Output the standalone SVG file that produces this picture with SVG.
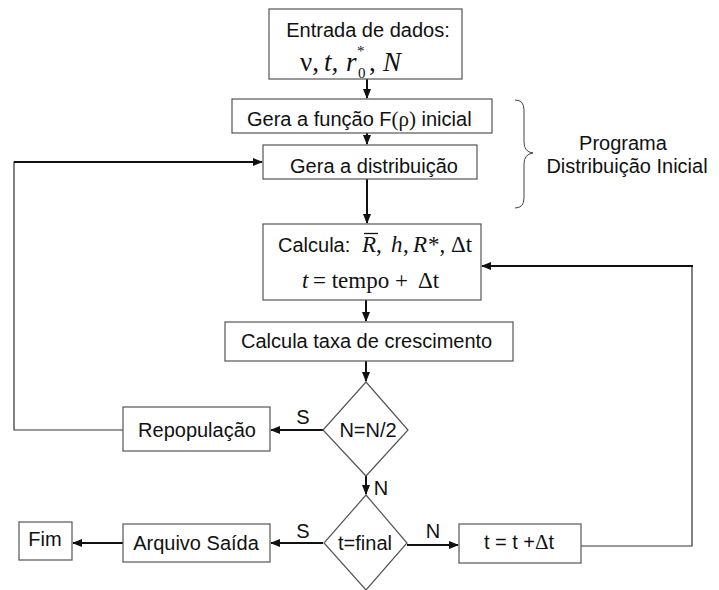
<svg xmlns="http://www.w3.org/2000/svg" width="719" height="590" viewBox="0 0 719 590">
<style>
.box{fill:#fff;stroke:#555;stroke-width:1.2}
.t{font-family:"Liberation Sans",Arial,sans-serif;font-size:20px;fill:#111}
.m{font-family:"Liberation Serif","Times New Roman",serif;fill:#111}
.i{font-style:italic}
.c{stroke:#111;stroke-width:2;fill:none}
.thin{stroke:#333;stroke-width:1.2;fill:none}
</style>
<defs>
<marker id="ah" viewBox="0 0 10 10" refX="9" refY="5" markerWidth="5" markerHeight="5" orient="auto"><path d="M0,1 L10,5 L0,9 z" fill="#111"/></marker>
</defs>
<g id="connectors">
<line class="c" x1="367" y1="79" x2="367" y2="98" marker-end="url(#ah)"/>
<line class="c" x1="367" y1="133" x2="367" y2="144" marker-end="url(#ah)"/>
<line class="c" x1="367" y1="179" x2="367" y2="223" marker-end="url(#ah)"/>
<line class="c" x1="366" y1="300" x2="366" y2="321" marker-end="url(#ah)"/>
<line class="c" x1="366" y1="361" x2="366" y2="381" marker-end="url(#ah)"/>
<line class="c" x1="323" y1="430" x2="271" y2="430" marker-end="url(#ah)"/>
<polyline class="thin" points="123,430 14,430 14,162 150,162"/>
<line class="c" x1="14" y1="162" x2="262" y2="162" marker-end="url(#ah)"/>
<line class="c" x1="366" y1="475" x2="366" y2="494" marker-end="url(#ah)"/>
<line class="c" x1="323" y1="543" x2="271" y2="543" marker-end="url(#ah)"/>
<line class="c" x1="123" y1="543" x2="73" y2="543" marker-end="url(#ah)"/>
<line class="c" x1="407" y1="545" x2="458" y2="545" marker-end="url(#ah)"/>
<polyline class="thin" points="581,546 692,546 692,266"/>
<line class="c" x1="693" y1="266" x2="482" y2="266" marker-end="url(#ah)"/>
<text class="t" x="303" y="424" text-anchor="middle">S</text>
<text class="t" x="303" y="538" text-anchor="middle">S</text>
<text class="t" x="381" y="495" text-anchor="middle">N</text>
<text class="t" x="433" y="538" text-anchor="middle">N</text>
</g>
<g id="entrada">
<rect class="box" x="269" y="9" width="193" height="70"/>
<text class="t" x="368" y="37" text-anchor="middle">Entrada de dados:</text>
<g class="m" font-size="27">
<text x="300" y="71">ν,</text>
<text x="324" y="71" class="i">t,</text>
<text x="346" y="71" class="i">r</text>
<text x="358" y="78" font-size="15">0</text>
<text x="357" y="56" font-size="15">*</text>
<text x="369" y="71">,</text>
<text x="383" y="71" class="i">N</text>
</g>
</g>
<g id="gera-funcao">
<rect class="box" x="232" y="99" width="260" height="34"/>
<text class="t" x="247" y="126">Gera a função F<tspan class="m" font-size="21">(ρ)</tspan> inicial</text>
</g>
<g id="gera-distribuicao">
<rect class="box" x="263" y="145" width="214" height="34"/>
<text class="t" x="374" y="173" text-anchor="middle">Gera a distribuição</text>
</g>
<g id="programa">
<path d="M515,100 Q524,100 524,110 L524,142 Q524,152 533,153 Q524,154 524,164 L524,198 Q524,208 515,208" fill="none" stroke="#444" stroke-width="1"/>
<text class="t" x="623" y="150" text-anchor="middle">Programa</text>
<text class="t" x="627" y="173" text-anchor="middle">Distribuição Inicial</text>
</g>
<g id="calcula">
<rect class="box" x="263" y="224" width="218" height="76"/>
<text class="t" x="278" y="252" font-size="19">Calcula:</text>
<g class="m" font-size="23">
<text x="362" y="252" class="i">R</text>
<text x="376" y="252">,</text>
<text x="391" y="252" class="i">h</text>
<text x="403" y="252">,</text>
<text x="413" y="252" class="i">R</text>
<text x="428" y="252">*,</text>
<text x="451" y="252">Δt</text>
<text x="302" y="288" class="i">t</text>
<text x="313" y="288">= tempo +</text>
<text x="418" y="288">Δt</text>
</g>
<line x1="364" y1="233.5" x2="378" y2="233.5" stroke="#111" stroke-width="1.3"/>
</g>
<g id="taxa">
<rect class="box" x="225" y="322" width="288" height="39"/>
<text class="t" x="241" y="348">Calcula taxa de crescimento</text>
</g>
<g id="decisao-n">
<polygon class="box" points="366,382 408,430 366,476 323,430"/>
<text class="t" x="368" y="437" text-anchor="middle">N=N/2</text>
</g>
<g id="repopulacao">
<rect class="box" x="123" y="407" width="147" height="44"/>
<text class="t" x="197" y="437" text-anchor="middle">Repopulação</text>
</g>
<g id="decisao-t">
<polygon class="box" points="366,495 407,543 366,590 324,543"/>
<text class="t" x="365" y="550" text-anchor="middle">t=final</text>
</g>
<g id="arquivo">
<rect class="box" x="123" y="524" width="147" height="38"/>
<text class="t" x="196" y="550" text-anchor="middle">Arquivo Saída</text>
</g>
<g id="fim">
<rect class="box" x="19" y="522" width="53" height="38"/>
<text class="t" x="45" y="546" text-anchor="middle">Fim</text>
</g>
<g id="incremento">
<rect class="box" x="459" y="524" width="122" height="39"/>
<text class="t" x="519" y="549" text-anchor="middle">t = t +<tspan class="m" font-size="21">Δ</tspan>t</text>
</g>
</svg>
